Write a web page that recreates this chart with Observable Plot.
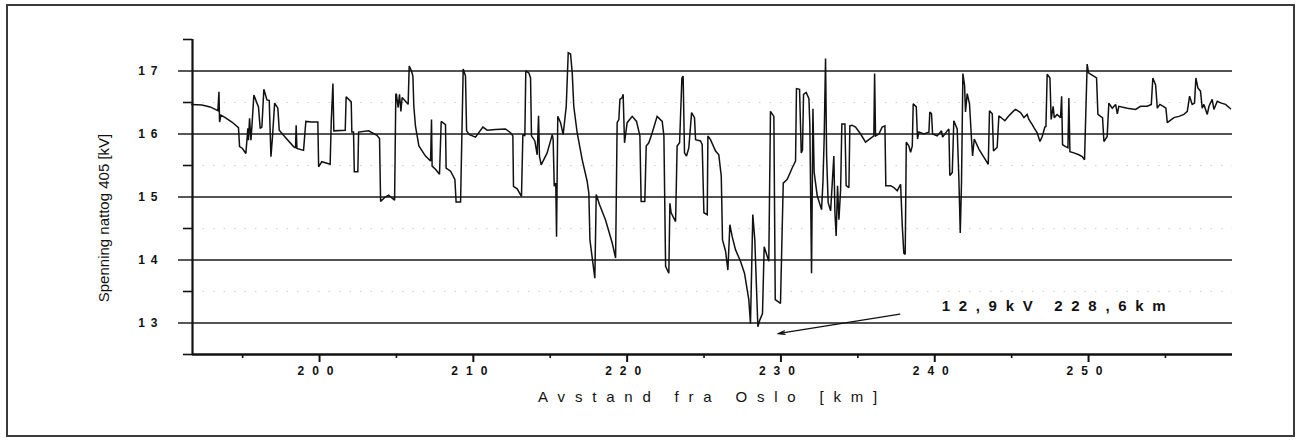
<!DOCTYPE html>
<html>
<head>
<meta charset="utf-8">
<script src="https://cdn.jsdelivr.net/npm/d3@7"></script>
<script src="https://cdn.jsdelivr.net/npm/@observablehq/plot@0.6"></script>
<style>
  html, body { margin: 0; padding: 0; background: #fff; }
  #wrap { position: relative; width: 1297px; height: 441px; overflow: hidden; }
  #border { position: absolute; left: 6px; top: 4px; width: 1289px; height: 433px; box-sizing: border-box; border: 2px solid #3a3a3a; pointer-events: none; }
  g[aria-label="y-axis tick label"] text { letter-spacing: 6px; }
  g[aria-label="x-axis tick label"] text { letter-spacing: 8px; }
</style>
</head>
<body>
<div id="wrap"><div id="border"></div></div>
<script>
// Distance from Oslo [km]
const km = [
191.70,192.35,192.89,193.39,193.46,193.50,193.59,193.87,194.30,194.73,
194.80,194.99,195.21,195.34,195.38,195.45,195.54,195.60,195.73,195.93,
196.03,196.14,196.25,196.38,196.58,196.73,196.84,196.94,197.08,197.29,
197.38,197.77,198.31,198.44,198.48,198.53,198.96,199.11,199.50,199.89,
199.94,200.15,200.69,200.76,200.87,200.93,201.67,201.73,202.06,202.10,
202.21,202.26,202.49,202.54,203.19,203.73,203.90,203.97,204.27,204.49,
204.88,204.96,
205.00,205.11,205.20,205.29,205.37,205.59,205.76,205.83,205.98,206.07,
206.13,206.24,206.46,206.89,207.22,207.28,207.32,207.54,207.80,207.91,
208.19,208.23,208.52,208.80,208.88,209.17,209.34,209.49,209.56,209.75,
210.14,210.62,210.90,211.44,212.09,212.42,212.57,212.61,212.85,213.13,
213.22,213.35,213.41,213.61,213.72,213.78,214.00,214.15,214.24,214.30,
214.41,214.80,215.13,215.19,215.26,215.36,215.41,215.49,215.67,215.84,
216.04,216.17,216.32,216.43,216.53,216.75,217.08,217.40,217.51,217.58,
217.90,217.99,218.20,218.59,
219.03,219.25,219.35,219.46,219.53,219.68,219.74,219.83,220.00,220.33,
220.61,220.83,220.91,221.15,221.24,221.41,221.63,221.95,222.28,222.39,
222.50,222.71,222.78,222.86,223.15,223.25,223.41,223.56,223.64,223.73,
223.86,224.01,224.19,224.38,224.45,224.77,224.88,224.99,225.21,225.25,
225.42,225.75,225.96,226.12,226.20,226.40,226.55,226.68,226.83,227.05,
227.37,227.63,227.91,228.02,228.17,228.30,228.50,228.63,228.80,228.91,
229.04,229.21,229.32,229.54,229.63,229.97,230.15,230.41,230.73,230.95,
231.01,231.21,231.32,231.40,231.47,
231.64,231.82,231.88,231.99,232.08,232.16,232.36,232.64,232.73,232.81,
232.90,232.97,233.07,233.23,233.44,233.51,233.59,233.68,233.77,233.88,
233.96,234.16,234.24,234.42,234.48,234.63,234.85,235.18,235.50,235.76,
236.04,236.09,236.15,236.37,236.58,236.76,236.82,237.13,237.34,237.56,
237.78,237.89,237.99,238.08,238.15,238.32,238.43,238.54,238.60,238.80,
238.88,238.97,239.29,239.62,239.68,239.79,239.86,240.16,240.44,240.51,
240.81,240.92,240.98,241.14,241.24,241.46,241.57,241.66,241.74,241.83,
241.94,242.00,242.11,242.26,242.39,242.46,242.57,242.87,243.20,243.48,
243.56,243.74,243.82,244.06,244.17,244.56,244.82,245.15,
245.26,245.58,245.80,246.01,246.12,246.34,246.45,246.66,246.84,246.99,
247.16,247.23,247.31,247.49,247.57,247.70,247.77,247.96,248.18,248.25,
248.31,248.51,248.66,248.72,248.79,249.05,249.37,249.59,249.74,249.91,
250.00,250.13,250.52,250.61,250.78,250.91,251.00,251.21,251.32,251.54,
251.76,251.87,251.97,252.52,253.06,253.38,253.82,254.08,254.18,254.36,
254.47,254.64,254.86,255.03,255.12,255.55,255.88,256.20,256.42,256.57,
256.74,256.89,256.98,257.11,257.28,257.39,257.50,257.72,257.83,258.04,
258.15,258.37,258.63,258.91,259.23
];
// Voltage on night train 405 [kV]
const kv = [
16.47,16.46,16.43,16.37,16.67,16.19,16.30,16.26,16.19,16.10,
15.80,15.77,15.69,16.09,15.90,16.25,15.90,16.11,16.62,16.49,
16.43,16.09,16.11,16.71,16.54,16.53,15.64,15.95,16.49,16.41,
16.06,15.95,15.80,15.78,16.14,15.77,15.74,16.20,16.19,16.19,
15.48,15.56,15.52,16.19,16.80,16.05,16.06,16.59,16.51,16.03,
16.03,15.40,15.40,16.03,16.05,15.98,15.93,14.93,15.00,15.03,
14.95,16.64,
16.63,16.42,16.63,16.36,16.58,16.52,16.47,17.08,17.00,16.92,
16.44,16.12,15.81,15.65,15.57,16.23,15.49,15.44,15.36,16.20,
16.15,15.46,15.41,15.28,14.92,14.92,17.03,16.92,16.05,15.99,
15.95,16.11,16.06,16.07,16.08,16.02,15.97,15.17,15.13,15.01,
15.99,15.97,17.00,16.97,16.89,15.97,15.89,15.67,16.29,15.65,
15.51,15.70,15.99,15.91,15.17,15.22,14.37,16.28,16.18,15.99,
16.44,17.29,17.27,16.97,16.44,16.02,15.59,15.25,15.06,14.32,
13.71,15.04,14.88,14.64,
14.27,14.03,16.18,16.23,16.55,16.58,16.63,15.86,16.18,16.28,
16.20,15.97,14.93,14.93,15.81,15.86,16.02,16.28,16.20,15.97,
13.90,13.79,14.90,14.75,14.61,15.81,15.86,16.89,16.92,15.70,
15.65,15.78,16.34,16.26,15.91,15.89,15.83,14.75,14.72,15.97,
15.91,15.73,15.67,15.33,14.32,14.14,13.84,14.56,14.37,14.16,
13.98,13.79,13.37,12.99,14.72,14.32,12.94,13.05,13.15,14.21,
14.11,13.98,16.36,16.28,13.37,13.31,15.22,15.28,15.46,15.57,
16.72,16.71,15.70,15.75,16.63,
16.66,16.56,16.13,13.79,16.40,15.39,15.02,14.80,15.23,15.92,
17.20,15.65,14.91,14.78,15.65,14.75,14.38,15.18,14.64,15.12,
16.16,16.16,15.18,15.15,16.13,16.14,16.11,16.00,15.87,15.92,
15.97,16.96,15.97,16.00,16.11,16.13,15.18,15.18,15.15,15.10,
15.20,14.54,14.11,14.09,15.87,15.81,15.71,15.81,16.48,16.43,
15.92,16.03,16.00,16.03,16.35,16.32,16.00,15.97,16.05,15.95,
16.05,16.08,15.34,15.39,16.21,16.08,15.28,14.43,15.23,16.96,
16.77,16.35,16.64,16.48,15.92,15.65,15.92,15.76,15.63,15.52,
16.37,16.32,15.73,15.79,16.29,16.21,16.29,16.37,
16.39,16.34,16.26,16.31,16.23,16.15,16.10,16.02,15.88,15.96,
16.11,16.12,16.95,16.89,16.23,16.44,16.26,16.31,16.26,16.60,
15.83,15.80,15.78,16.57,15.72,15.70,15.67,15.64,15.59,17.11,
16.97,16.95,16.89,16.31,16.28,16.26,15.88,15.96,16.49,16.41,
16.47,16.32,16.44,16.41,16.39,16.44,16.44,16.47,16.89,16.78,
16.41,16.47,16.44,16.41,16.18,16.26,16.28,16.31,16.36,16.60,
16.47,16.49,16.89,16.73,16.68,16.41,16.47,16.31,16.44,16.55,
16.39,16.52,16.49,16.47,16.40
];

const xDomain = [191.74, 259.36];
const yDomain = [12.5, 17.5];
const xMajorTicks = [200, 210, 220, 230, 240, 250];
const xMinorTicks = [195, 205, 215, 225, 235, 245, 255];
const yMajorTicks = [13, 14, 15, 16, 17];
const yMinorTicks = [12.5, 13.5, 14.5, 15.5, 16.5, 17.5];
const yDotted = [13.5, 14.5, 15.5, 16.5];

const xTitle = "Avstand fra Oslo [km]";
const yTitle = "Spenning nattog 405 [kV]";
const noteText = "12,9kV 228,6km";
const noteAt = {km: 240.45, kv: 13.27};
const arrowFrom = {km: 237.73, kv: 13.14};
const arrowTo = {km: 229.8, kv: 12.83};

const n = Math.min(km.length, kv.length);
const data = d3.range(n).map(i => ({km: km[i], kv: kv[i]}));

const chart = Plot.plot({
  width: 1297,
  height: 441,
  marginLeft: 192,
  marginRight: 65,
  marginTop: 39,
  marginBottom: 87,
  style: {fontFamily: "'Liberation Sans', Arial, sans-serif", background: "transparent", color: "#111"},
  x: {domain: xDomain},
  y: {domain: yDomain},
  marks: [
    Plot.ruleY(yDotted, {stroke: "#aaa", strokeWidth: 1, strokeDasharray: "1.5,9", strokeOpacity: 0.6}),
    Plot.ruleY(yMajorTicks, {stroke: "#1a1a1a", strokeWidth: 1.4}),
    Plot.axisY({ticks: yMajorTicks, tickSize: 14, tickPadding: 15, tickFormat: d => String(d), fontSize: 12, fontWeight: "bold", label: null, strokeWidth: 1.4}),
    Plot.axisY({ticks: yMinorTicks, tickSize: 9, tickFormat: () => "", label: null, strokeWidth: 1.6}),
    Plot.axisX({ticks: xMajorTicks, tickSize: 8, tickPadding: 4, tickFormat: d => String(d), fontSize: 12, fontWeight: "bold", label: null, strokeWidth: 2}),
    Plot.axisX({ticks: xMinorTicks, tickSize: 4, tickFormat: () => "", label: null, strokeWidth: 1.6}),
    Plot.ruleX([xDomain[0]], {stroke: "#111", strokeWidth: 2.2}),
    Plot.ruleY([yDomain[0]], {stroke: "#111", strokeWidth: 2.6}),
    Plot.line(data, {x: "km", y: "kv", stroke: "#111", strokeWidth: 1.5, strokeLinejoin: "miter", strokeMiterlimit: 2}),
    Plot.arrow([{x1: arrowFrom.km, y1: arrowFrom.kv, x2: arrowTo.km, y2: arrowTo.kv}], {x1: "x1", y1: "y1", x2: "x2", y2: "y2", stroke: "#111", strokeWidth: 1.2, headLength: 9, headAngle: 30}),
    Plot.text([noteText], {x: noteAt.km, y: noteAt.kv, text: d => d, textAnchor: "start", fontSize: 15, fontWeight: "bold", fill: "#111"}),
    Plot.text([xTitle], {frameAnchor: "bottom", dy: 43, text: d => d, textAnchor: "middle", lineAnchor: "middle", fontSize: 15, fill: "#111"}),
    Plot.text([yTitle], {frameAnchor: "left", dx: -88, dy: 21, rotate: -90, text: d => d, textAnchor: "middle", lineAnchor: "middle", fontSize: 15, fill: "#111"})
  ]
});
const spacing = new Map([[xTitle, "9.8px"], [noteText, "8.7px"]]);
d3.select(chart).selectAll("text").each(function() {
  const s = spacing.get(this.textContent);
  if (s) this.style.letterSpacing = s;
});
document.getElementById("wrap").prepend(chart);
</script>
</body>
</html>
